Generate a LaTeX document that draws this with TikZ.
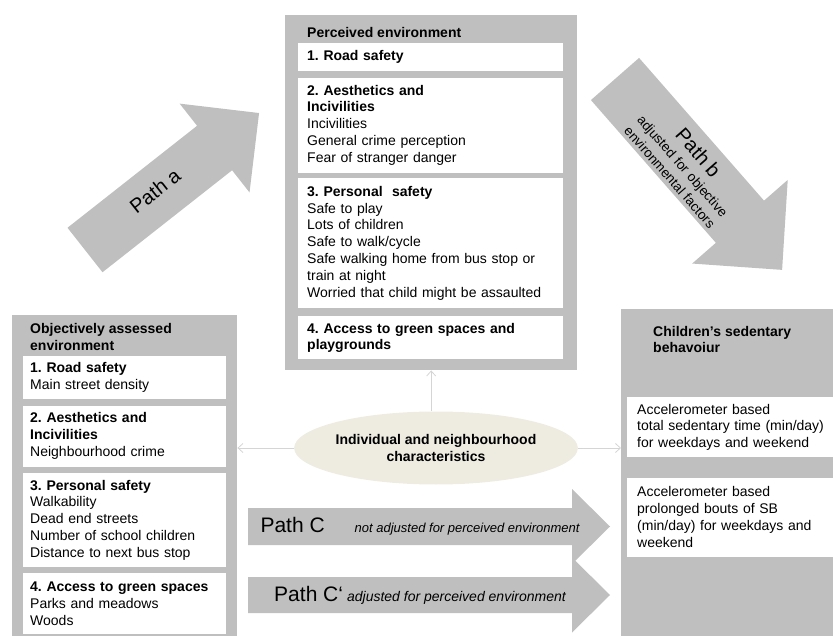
\documentclass[tikz,border=0pt]{standalone}
\usepackage{fontspec}
\setmainfont{Liberation Sans}
\frenchspacing
\usetikzlibrary{arrows.meta,positioning,shapes.geometric}
\definecolor{boxgray}{HTML}{BFBFBF}
\definecolor{pathgray}{HTML}{BFBFBF}
\definecolor{ovalfill}{HTML}{EEECE1}
\definecolor{linegray}{HTML}{D5D5D5}

% block arrow: tail centre, angle, length, head length, half shaft, half head
\newcommand\blockarrow[6]{%
  \fill[pathgray,shift={#1},rotate=#2]
    (0,-#5) -- ({#3-#4},-#5) -- ({#3-#4},-#6) -- (#3,0)
    -- ({#3-#4},#6) -- ({#3-#4},#5) -- (0,#5) -- cycle;}

\begin{document}
\begin{tikzpicture}[
    x=1pt, y=-1pt,
    node distance=6pt,
    font=\fontsize{14}{16.8}\selectfont,
    graybox/.style={fill=boxgray, anchor=north west, inner sep=0pt},
    heading/.style={anchor=west, align=left, inner sep=0pt,
        font=\fontsize{14}{16.8}\selectfont\bfseries},
    item/.style={fill=white, align=left, inner ysep=0pt, anchor=north west},
    percitem/.style={item, inner xsep=9pt, text width=247pt},
    objitem/.style={item, inner xsep=7pt, text width=189pt},
    sbitem/.style={item, inner xsep=10pt, text width=220pt},
    link/.style={draw=linegray, line width=0.8pt,
        -{Straight Barb[length=5pt,width=9pt]}},
    pathlabel/.style={inner sep=0pt, align=center}
  ]
  \useasboundingbox (0,0) rectangle (833,636);

  % the three frames
  \node (objbox) [graybox, minimum width=225pt, minimum height=330pt] at (12,315) {};
  \node (percbox) [graybox, minimum width=292pt, minimum height=355pt] at (285,15) {};
  \node (sbbox) [graybox, minimum width=230pt, minimum height=330pt] at (621,309) {};

  \node (perchead) [heading] at (307,32) {Perceived environment};
  \node (objhead) [heading] at (30,337) {Objectively assessed\\environment};
  \node (sbhead) [heading] at (653,339.5) {Children’s sedentary\\behavoiur};

  % perceived environment
  \node (perc1) [percitem, minimum height=28pt] at (298,43) {\textbf{1. Road safety}};
  \node (perc2) [percitem, minimum height=95pt, below=of perc1]
    {\textbf{2. Aesthetics and\\Incivilities}\\Incivilities\\General crime perception\\Fear of stranger danger};
  \node (perc3) [percitem, minimum height=130pt, below=5pt of perc2]
    {\textbf{3. Personal\ \ safety}\\Safe to play\\Lots of children\\Safe to walk/cycle\\Safe walking home from bus stop or\\train at night\\Worried that child might be assaulted};
  \node (perc4) [percitem, minimum height=43pt, below=8pt of perc3]
    {\textbf{4. Access to green spaces and\\playgrounds}};

  % objectively assessed environment
  \node (obj1) [objitem, minimum height=43pt] at (23,356)
    {\textbf{1. Road safety}\\Main street density};
  \node (obj2) [objitem, minimum height=61pt, below=of obj1]
    {\textbf{2. Aesthetics and\\Incivilities}\\Neighbourhood crime};
  \node (obj3) [objitem, minimum height=94pt, below=of obj2]
    {\textbf{3. Personal safety}\\Walkability\\Dead end streets\\Number of school children\\Distance to next bus stop};
  \node (obj4) [objitem, minimum height=61pt, below=of obj3]
    {\textbf{4. Access to green spaces}\\Parks and meadows\\Woods};

  % sedentary behaviour
  \node (sb1) [sbitem, minimum height=60pt] at (627,397)
    {Accelerometer based\\total sedentary time (min/day)\\for weekdays and weekend};
  \node (sb2) [sbitem, minimum height=79pt, below=20pt of sb1]
    {Accelerometer based\\prolonged bouts of SB\\(min/day) for weekdays and\\weekend};

  % paths
  \blockarrow{(85,250)}{38.2}{221.5}{56.6}{28.3}{56.5}
  \blockarrow{(615,79)}{-48.8}{253.7}{64}{32}{63.5}
  \blockarrow{(248,526.5)}{0}{362}{38}{18.5}{37.5}
  \blockarrow{(248,595)}{0}{362}{38}{18}{37.5}

  \node (patha) [pathlabel, rotate=38.2, font=\fontsize{20}{20}\selectfont] at (155,191) {Path a};
  \node (pathb) [pathlabel, rotate=-48.8, text width=160pt,
    font=\fontsize{13.5}{17}\selectfont] at (685,164)
    {{\fontsize{20}{24}\selectfont Path b\par}\vspace{1.5pt}adjusted for objective\\environmental factors};
  \node (pathc) [pathlabel] at (420,526.5)
    {{\fontsize{21}{21}\selectfont Path C}\hspace{30pt}{\fontsize{13}{13}\selectfont\itshape not adjusted for perceived environment}};
  \node (pathc2) [pathlabel] at (420,595)
    {{\fontsize{21}{21}\selectfont Path C‘}\hspace{4pt}{\fontsize{14}{14}\selectfont\itshape adjusted for perceived environment}};

  % moderators
  \node (indiv) [ellipse, fill=ovalfill, minimum width=237pt, minimum height=73pt,
    inner sep=0pt, align=center, font=\fontsize{14}{16.8}\selectfont\bfseries] at (436,448)
    {Individual and neighbourhood\\characteristics};
  \draw [link] (indiv.north -| percbox.south) -- (percbox.south);
  \draw [link] (indiv.west) -- (indiv.west -| objbox.east);
  \draw [link] (indiv.east) -- (indiv.east -| sbbox.west);
\end{tikzpicture}
\end{document}
